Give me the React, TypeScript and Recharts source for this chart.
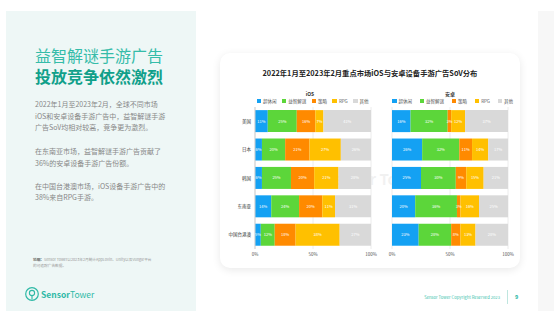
import { Bar, BarChart, CartesianGrid, LabelList, XAxis, YAxis } from "recharts";

const categories = ["美国", "日本", "韩国", "东南亚", "中国台港澳"];
const seriesNames = ["超休闲", "益智解谜", "策略", "RPG", "其他"];
const COLORS = ["#14a1f3", "#5cd63a", "#ff8a00", "#ffc000", "#d9d9d9"];

// iOS share (%) per market
const iosCasual = [11, 6, 6, 14, 5];
const iosPuzzle = [25, 20, 25, 24, 12];
const iosStrategy = [16, 21, 20, 20, 18];
const iosRpg = [7, 27, 21, 11, 38];
const iosOther = [41, 26, 28, 31, 27];

// Android share (%) per market
const andCasual = [16, 26, 25, 20, 23];
const andPuzzle = [32, 32, 30, 36, 28];
const andStrategy = [3, 11, 9, 3, 8];
const andRpg = [12, 14, 15, 16, 13];
const andOther = [37, 17, 21, 25, 28];

const xTicks = [0, 50, 100];

const FONT = '"Noto Sans CJK SC", "Noto Sans", sans-serif';

const buildRows = (series: number[][]) =>
  categories.map((name, i) => {
    const row: Record<string, string | number> = { name };
    series.forEach((s, k) => (row["s" + k] = s[i]));
    return row;
  });

const iosData = buildRows([iosCasual, iosPuzzle, iosStrategy, iosRpg, iosOther]);
const androidData = buildRows([andCasual, andPuzzle, andStrategy, andRpg, andOther]);

const LegendRow = ({ left, top, width }: { left: number; top: number; width: number }) => (
  <div
    style={{
      position: "absolute",
      left,
      top,
      width,
      display: "flex",
      justifyContent: "space-between",
      alignItems: "center",
      fontSize: 4.5,
      lineHeight: "5px",
      color: "#555",
    }}
  >
    {seriesNames.map((n, i) => (
      <div key={n} style={{ display: "flex", alignItems: "center" }}>
        <div style={{ width: 4.5, height: 4.5, background: COLORS[i], marginRight: 2 }} />
        <span>{n}</span>
      </div>
    ))}
  </div>
);

const StackChart = ({
  data,
  showY,
  width,
  margin,
}: {
  data: Record<string, string | number>[];
  showY: boolean;
  width: number;
  margin: { top: number; right: number; bottom: number; left: number };
}) => (
  <BarChart
    width={width}
    height={170}
    data={data}
    layout="vertical"
    margin={margin}
    barCategoryGap="11%"
    style={{ fontFamily: FONT }}
  >
    <CartesianGrid horizontal={false} stroke="#ececec" />
    <XAxis
      type="number"
      domain={[0, 100]}
      ticks={xTicks}
      tickFormatter={(v) => v + "%"}
      axisLine={false}
      tickLine={false}
      tickSize={2}
      height={12}
      tick={{ fontSize: 4.5, fill: "#555" }}
      interval={0}
    />
    <YAxis
      type="category"
      dataKey="name"
      hide={!showY}
      width={35}
      axisLine={{ stroke: "#cfcfcf" }}
      tickLine={false}
      tickSize={2}
      tick={{ fontSize: 4.5, fill: "#333" }}
      interval={0}
    />
    {seriesNames.map((n, k) => (
      <Bar key={n} dataKey={"s" + k} name={n} stackId="a" fill={COLORS[k]} isAnimationActive={false}>
        <LabelList
          dataKey={"s" + k}
          position="center"
          formatter={(v: number) => v + "%"}
          style={{ fontSize: 4, fill: "#fff" }}
        />
      </Bar>
    ))}
  </BarChart>
);

export default function App() {
  return (
    <div
      style={{
        position: "absolute",
        left: 0,
        top: 0,
        width: 554,
        height: 319,
        background: "#fff",
        overflow: "hidden",
        fontFamily: FONT,
      }}
    >
      {/* left text panel */}
      <div style={{ position: "absolute", left: 6, top: 11, width: 190, height: 300, background: "#eef7f6" }} />
      <div style={{ position: "absolute", left: 538, top: 11, width: 16, height: 300, background: "#f7f7f7" }} />

      <div style={{ position: "absolute", left: 35, top: 46, fontSize: 16, lineHeight: "18px", color: "#35bca9" }}>
        益智解谜手游广告
      </div>
      <div
        style={{ position: "absolute", left: 35, top: 67, fontSize: 16, lineHeight: "18px", color: "#10a08a", fontWeight: 700 }}
      >
        投放竞争依然激烈
      </div>

      <div style={{ position: "absolute", left: 35, top: 99, width: 140, fontSize: 7, lineHeight: "11.7px", color: "#888" }}>
        <div>2022年1月至2023年2月，全球不同市场</div>
        <div>iOS和安卓设备手游广告中，益智解谜手游</div>
        <div>广告SoV均相对较高，竞争更为激烈。</div>
        <div style={{ height: 12 }} />
        <div>在东南亚市场，益智解谜手游广告贡献了</div>
        <div>36%的安卓设备手游广告份额。</div>
        <div style={{ height: 11 }} />
        <div>在中国台港澳市场，iOS设备手游广告中的</div>
        <div>38%来自RPG手游。</div>
      </div>

      <div style={{ position: "absolute", left: 33, top: 256.5, width: 140, fontSize: 3.7, lineHeight: "6.3px", color: "#999" }}>
        <span style={{ fontWeight: 700, color: "#666" }}>说明：</span>
        Sensor Tower以2023年2月统计AppLovin、Unity以及Vungle平台
        <br />
        的可追踪广告数据。
      </div>

      <svg style={{ position: "absolute", left: 24, top: 286 }} width={16} height={16}>
        <circle cx={8} cy={8} r={6.3} fill="none" stroke="#2fb9a6" strokeWidth={1.2} />
        <circle cx={8} cy={7} r={2.6} fill="none" stroke="#2fb9a6" strokeWidth={1.1} />
        <line x1={8} y1={9.6} x2={8} y2={13.5} stroke="#2fb9a6" strokeWidth={1.1} />
      </svg>
      <div style={{ position: "absolute", left: 41, top: 288.5, fontSize: 8.5, lineHeight: "11px", color: "#2fb9a6" }}>
        <span style={{ fontWeight: 700 }}>Sensor</span>
        <span>Tower</span>
      </div>

      {/* chart card */}
      <div
        style={{
          position: "absolute",
          left: 220,
          top: 53,
          width: 300,
          height: 215,
          background: "#fff",
          borderRadius: 10,
          boxShadow: "0 2px 8px rgba(0,0,0,0.09)",
        }}
      />
      <div
        style={{
          position: "absolute",
          left: 325,
          top: 170,
          fontSize: 15,
          lineHeight: "18px",
          color: "#000",
          opacity: 0.05,
          fontWeight: 700,
        }}
      >
        Sensor Tower
      </div>

      <div
        style={{
          position: "absolute",
          left: 220,
          width: 300,
          top: 68.5,
          textAlign: "center",
          fontSize: 7.3,
          lineHeight: "9px",
          fontWeight: 700,
          color: "#222",
        }}
      >
        2022年1月至2023年2月重点市场iOS与安卓设备手游广告SoV分布
      </div>

      <div style={{ position: "absolute", left: 290, width: 40, top: 91, textAlign: "center", fontSize: 5, lineHeight: "6px", fontWeight: 700, color: "#333" }}>
        iOS
      </div>
      <div style={{ position: "absolute", left: 430, width: 40, top: 91, textAlign: "center", fontSize: 5, lineHeight: "6px", fontWeight: 700, color: "#333" }}>
        安卓
      </div>

      <LegendRow left={256.5} top={98.5} width={112} />
      <LegendRow left={392} top={98.5} width={121} />

      <div style={{ position: "absolute", left: 220, top: 100 }}>
        <StackChart data={iosData} showY width={160} margin={{ top: 7, right: 9, bottom: 9, left: 0 }} />
      </div>
      <div style={{ position: "absolute", left: 385, top: 100 }}>
        <StackChart data={androidData} showY={false} width={130} margin={{ top: 7, right: 7, bottom: 9, left: 7 }} />
      </div>

      {/* footer */}
      <div style={{ position: "absolute", left: 400, width: 100, top: 294.5, textAlign: "right", fontSize: 4.2, lineHeight: "5px", color: "#3bbfad" }}>
        Sensor Tower Copyright Reserved 2023
      </div>
      <div style={{ position: "absolute", left: 507, top: 290, width: 1, height: 14, background: "#bfe6df" }} />
      <div style={{ position: "absolute", left: 515, top: 294, fontSize: 5.5, lineHeight: "6px", color: "#2fb9a6", fontWeight: 700 }}>
        9
      </div>
    </div>
  );
}
